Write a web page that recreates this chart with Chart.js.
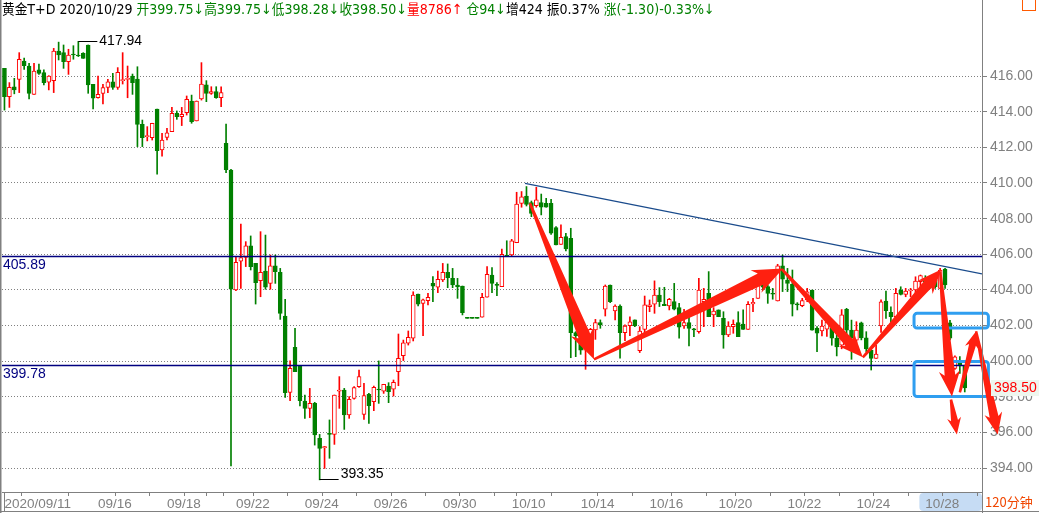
<!DOCTYPE html>
<html>
<head>
<meta charset="utf-8">
<script src="https://cdn.jsdelivr.net/npm/chart.js@4.4.1/dist/chart.umd.min.js"></script>
<style>
  html, body { margin: 0; padding: 0; background: #fff; }
  #wrap { position: relative; width: 1039px; height: 513px; overflow: hidden; }
  canvas { position: absolute; left: 0; top: 0; }
  #head { position: absolute; left: 2px; top: 0px; font: 14px "DejaVu Sans", "Noto Sans CJK SC", sans-serif;
          line-height: 18px; white-space: pre; color: #000; transform: scaleX(0.905); transform-origin: 0 0; }
  .g { color: #008000; }
  .r { color: #ff0000; }
  #icon { position: absolute; left: 1022px; top: -3px; width: 12px; height: 12px; border: 1px solid #ff5a00; }
</style>
</head>
<body>
<div id="wrap">
  <canvas id="c" width="1039" height="513"></canvas>
  <div id="head">黄金T+D 2020/10/29 <span class="g">开399.75↓高399.75↓低398.28↓收398.50↓</span><span class="r">量8786↑</span> <span class="g">仓94↓</span>增424 振0.37% <span class="g">涨(-1.30)-0.33%↓</span></div>
  <div id="icon"></div>
</div>
<script>
// 120-minute candles, 2020/09/11 .. 2020/10/29 (one entry per bar)
const opens = [
  416.43, 414.84, 415.40, 415.81, 416.84, 416.56, 414.97, 416.34, 416.19, 415.65,
  415.74, 417.40, 417.31, 416.80, 417.23, 417.18, 417.27, 417.74, 415.53, 414.78,
  415.03, 415.36, 415.68, 415.36, 415.74, 415.81, 416.00, 415.83, 413.29, 412.60,
  412.54, 414.15, 411.85, 412.56, 412.88, 413.91, 413.72, 413.94, 414.60, 413.48,
  414.71, 415.50, 415.03, 415.12, 414.78, 412.22, 410.73, 404.00, 405.62, 405.83,
  406.48, 405.49, 404.52, 405.06, 404.37, 405.36, 404.99, 402.54, 398.26, 400.78,
  399.74, 397.77, 397.36, 397.64, 395.68, 395.15, 395.96, 395.90, 398.33, 398.39,
  396.99, 397.92, 398.58, 397.02, 398.15, 397.74, 398.44, 398.33, 398.61, 398.43,
  399.42, 400.32, 401.01, 401.29, 403.77, 403.25, 403.40, 404.37, 404.15, 404.56,
  404.99, 404.65, 404.28, 404.22, 402.41, 402.41, 402.41, 402.47, 403.59, 404.84,
  404.32, 404.19, 405.96, 405.96, 406.65, 408.86, 409.27, 408.90, 408.73, 408.90,
  408.86, 408.86, 407.50, 406.56, 406.99, 406.90, 401.61, 401.29, 400.63, 401.20,
  401.76, 402.17, 402.92, 404.28, 402.82, 403.10, 401.61, 402.00, 402.32, 400.60,
  401.79, 403.07, 403.20, 403.72, 403.20, 403.10, 403.35, 403.01, 401.98, 402.17,
  401.79, 401.66, 403.35, 403.81, 402.60, 402.88, 402.41, 401.48, 401.94, 402.17,
  402.09, 401.79, 403.22, 403.53, 404.37, 404.19, 403.81, 403.38, 405.36, 404.56,
  404.32, 403.21, 403.12, 403.44, 404.00, 401.85, 401.70, 401.80, 402.20, 401.30,
  400.90, 402.91, 401.75, 401.19, 402.15, 401.32, 400.63, 400.16, 401.98, 403.38,
  402.74, 402.50, 404.00, 403.75, 403.94, 404.00, 404.46, 404.65, 404.50, 404.56,
  404.09, 405.17, 402.15, 399.60, 399.98, 399.75
];
const highs = [
  416.43, 415.63, 415.87, 417.31, 417.00, 416.71, 416.71, 416.67, 416.34, 416.02,
  417.55, 417.90, 417.74, 417.50, 417.70, 417.94, 417.31, 417.74, 415.53, 416.00,
  415.53, 415.81, 416.15, 416.47, 417.31, 416.56, 416.11, 416.52, 413.53, 413.16,
  413.35, 414.15, 412.78, 413.07, 414.24, 414.04, 414.24, 414.88, 414.93, 414.60,
  416.75, 415.74, 415.40, 415.40, 415.40, 413.31, 410.77, 405.87, 407.70, 406.71,
  407.03, 405.49, 407.27, 407.08, 405.96, 405.96, 405.21, 403.47, 400.02, 401.85,
  399.74, 398.11, 398.48, 397.70, 395.90, 395.22, 396.71, 398.11, 399.14, 398.48,
  398.02, 398.58, 399.51, 398.76, 398.20, 398.61, 400.02, 398.71, 398.80, 398.95,
  401.53, 401.19, 401.70, 403.90, 403.77, 403.49, 403.81, 404.75, 405.06, 405.49,
  405.46, 405.21, 404.65, 404.22, 402.41, 402.41, 402.41, 403.81, 405.31, 405.25,
  404.41, 406.30, 406.76, 406.84, 409.48, 409.52, 409.80, 408.99, 409.76, 409.38,
  409.14, 409.08, 407.55, 407.65, 407.18, 407.46, 401.66, 401.79, 401.75, 401.85,
  402.35, 402.32, 404.28, 404.28, 403.16, 403.16, 402.04, 402.50, 402.32, 401.94,
  403.66, 403.44, 404.51, 404.13, 404.15, 403.53, 404.37, 403.25, 402.92, 402.50,
  401.85, 404.65, 404.09, 405.03, 403.01, 402.88, 402.78, 402.22, 402.32, 402.78,
  402.88, 403.35, 403.53, 404.37, 404.41, 404.28, 404.09, 405.44, 405.96, 405.21,
  405.12, 403.29, 403.53, 404.09, 404.00, 401.94, 402.31, 402.40, 402.30, 401.50,
  402.90, 402.97, 402.31, 402.22, 402.20, 401.66, 400.72, 400.91, 403.44, 403.94,
  403.06, 404.09, 404.18, 404.09, 404.09, 404.74, 404.84, 404.80, 404.70, 404.84,
  405.21, 405.21, 402.30, 400.30, 400.26, 399.75
];
const lows = [
  414.09, 414.24, 415.00, 415.07, 416.37, 414.71, 414.97, 416.09, 415.50, 415.22,
  415.07, 416.90, 416.43, 416.09, 416.94, 417.09, 416.99, 415.03, 414.15, 414.75,
  414.43, 415.07, 415.25, 415.25, 415.55, 414.78, 414.97, 412.04, 412.04, 412.36,
  412.41, 410.50, 411.51, 412.41, 412.88, 413.57, 413.22, 413.81, 413.35, 413.48,
  414.65, 414.56, 414.97, 414.75, 414.28, 410.58, 394.13, 403.96, 404.09, 405.31,
  405.12, 403.21, 403.62, 404.04, 404.04, 404.37, 402.35, 397.98, 397.79, 399.42,
  397.49, 396.80, 396.84, 395.30, 393.35, 393.99, 394.56, 395.34, 397.36, 396.18,
  396.80, 397.87, 398.54, 396.74, 396.52, 397.23, 397.64, 398.20, 397.68, 398.05,
  398.63, 400.04, 400.91, 401.14, 403.10, 401.44, 403.16, 403.34, 403.85, 404.47,
  404.13, 404.13, 403.53, 402.60, 402.41, 402.41, 402.41, 402.47, 403.59, 403.85,
  403.68, 404.19, 405.90, 405.90, 406.65, 408.64, 408.71, 408.11, 408.64, 408.21,
  408.64, 407.12, 406.52, 406.56, 406.19, 400.20, 400.26, 400.39, 399.55, 400.49,
  401.23, 401.85, 402.54, 403.29, 402.32, 400.17, 401.16, 401.44, 401.94, 400.49,
  401.48, 402.78, 402.69, 403.07, 403.12, 402.88, 402.88, 401.29, 401.85, 400.86,
  401.38, 401.57, 401.94, 402.50, 401.94, 402.50, 400.73, 401.38, 401.57, 401.38,
  401.79, 401.79, 402.78, 403.53, 404.00, 403.25, 403.48, 403.38, 403.91, 403.91,
  402.54, 402.88, 403.06, 403.34, 401.75, 400.54, 401.42, 401.40, 400.90, 400.30,
  400.70, 401.04, 400.11, 401.01, 401.20, 400.54, 399.51, 400.16, 401.62, 402.41,
  402.17, 402.41, 403.72, 403.62, 403.62, 403.62, 404.18, 404.09, 404.10, 404.09,
  404.09, 404.09, 401.20, 399.55, 399.32, 398.28
];
const closes = [
  414.84, 415.36, 415.22, 416.93, 416.58, 415.03, 416.28, 416.15, 415.63, 416.00,
  417.40, 417.18, 416.80, 417.18, 417.18, 417.12, 416.99, 415.50, 414.75, 414.97,
  415.35, 415.68, 415.36, 416.21, 415.78, 415.83, 415.63, 413.29, 412.54, 412.63,
  413.35, 411.81, 412.41, 412.82, 413.91, 413.72, 413.85, 414.69, 413.44, 414.60,
  415.55, 415.03, 415.12, 414.78, 415.07, 410.75, 404.04, 405.55, 405.81, 406.48,
  405.31, 404.41, 404.99, 404.15, 405.36, 405.03, 402.69, 398.24, 399.60, 399.42,
  397.79, 397.36, 397.64, 395.87, 395.12, 395.21, 395.90, 398.11, 398.39, 396.99,
  397.87, 398.52, 399.14, 398.07, 397.51, 398.54, 398.39, 398.71, 398.30, 398.82,
  400.17, 401.04, 401.34, 403.72, 403.21, 403.44, 403.59, 404.22, 404.60, 404.99,
  404.69, 404.28, 404.19, 402.73, 402.41, 402.41, 402.41, 403.59, 404.88, 404.37,
  404.26, 406.00, 405.90, 406.76, 408.82, 409.23, 408.80, 408.30, 409.05, 408.64,
  408.64, 407.18, 406.52, 406.95, 406.30, 401.61, 401.44, 400.63, 401.57, 401.79,
  402.17, 402.04, 404.22, 403.35, 403.10, 401.61, 401.98, 402.22, 401.98, 401.70,
  403.16, 403.16, 403.72, 403.35, 403.12, 403.48, 402.92, 401.91, 402.17, 401.85,
  401.76, 404.00, 403.48, 402.50, 402.82, 402.50, 401.48, 401.98, 402.07, 401.38,
  401.79, 403.20, 403.31, 404.37, 404.15, 403.81, 403.76, 405.36, 404.60, 404.37,
  403.21, 403.16, 403.40, 403.90, 401.75, 401.57, 401.98, 402.20, 401.30, 400.80,
  402.60, 401.75, 401.29, 401.75, 401.31, 400.69, 400.16, 400.41, 403.34, 402.84,
  402.50, 403.81, 403.75, 403.94, 404.00, 404.50, 404.80, 404.46, 404.30, 404.18,
  405.12, 404.28, 401.30, 400.25, 399.79, 398.50
];

// bar index where each trading day starts, and the date printed under it
const tickIdx = [0, 7, 19, 26, 33, 40, 42, 47, 54, 61, 68, 75, 82, 89, 96, 103, 105,
  117, 124, 131, 140, 145, 152, 159, 166, 173, 180, 187, 194];
const tickText = ['2020/09/11', '', '09/16', '', '09/18', '', '', '09/22', '', '09/24', '',
  '09/26', '', '09/30', '', '10/10', '', '10/14', '', '10/16', '', '10/20', '', '10/22', '',
  '10/24', '', '10/28', ''];

// drawn-on annotations, in (bar index, price)
const hLevels = [405.89, 399.78];
const trendLine = [[105.7, 409.98], [198.5, 404.9]];
const arrows = [
  [106.7, 408.86, 119.7, 400.11],
  [119.7, 400.11, 158.1, 405.21],
  [157.9, 405.15, 174.3, 400.22],
  [174.3, 400.22, 190.2, 405.15],
  [190.0, 405.04, 192.4, 398.03],
  [192.2, 397.86, 193.4, 395.90],
  [194.0, 398.26, 197.3, 401.68],
  [197.3, 401.68, 201.7, 395.90]
];
const boxes = [
  [184.7, 199.8, 401.87, 402.69],
  [184.7, 199.8, 398.02, 399.99]
];

const SLOTS = 199;
const RED = '#ff0000';
const GREEN = '#008000';
const GRAY = '#808080';
const FONT = '"Liberation Sans", Arial, sans-serif';

const isUp = i => closes[i] > opens[i];
const bodies = opens.map((o, i) => ({ x: i, y: [Math.min(o, closes[i]), Math.max(o, closes[i])] }));
const wicks = lows.map((l, i) => ({ x: i, y: [l, highs[i]] }));

function drawArrow(ctx, x1, y1, x2, y2) {
  const dx = x2 - x1, dy = y2 - y1, len = Math.hypot(dx, dy);
  const ux = dx / len, uy = dy / len, nx = -uy, ny = ux;
  const headL = Math.max(14, Math.min(25, len * 0.17));
  const headW = headL, shaftW = headL * 0.5, tailW = 2.5;
  const bx = x2 - ux * headL, by = y2 - uy * headL;
  const back = headL * 0.2;
  ctx.beginPath();
  ctx.moveTo(x1 + nx * tailW / 2, y1 + ny * tailW / 2);
  ctx.lineTo(bx + nx * shaftW / 2, by + ny * shaftW / 2);
  ctx.lineTo(bx - ux * back + nx * headW / 2, by - uy * back + ny * headW / 2);
  ctx.lineTo(x2, y2);
  ctx.lineTo(bx - ux * back - nx * headW / 2, by - uy * back - ny * headW / 2);
  ctx.lineTo(bx - nx * shaftW / 2, by - ny * shaftW / 2);
  ctx.lineTo(x1 - nx * tailW / 2, y1 - ny * tailW / 2);
  ctx.closePath();
  ctx.fill();
}

const decor = {
  id: 'decor',
  beforeDraw(chart) {
    // highlight behind the latest date label
    const { ctx, chartArea: ca, scales: { x } } = chart;
    let k = tickText.length - 1;
    while (k > 0 && !tickText[k]) k--;
    const x0 = x.getPixelForValue(tickIdx[k]) - 6;
    ctx.save();
    ctx.fillStyle = '#c6dcf4';
    ctx.beginPath();
    ctx.roundRect(x0, ca.bottom + 1, ca.right - x0, 18, 4);
    ctx.fill();
    ctx.restore();
  },
  afterDatasetsDraw(chart) {
    const { ctx, chartArea: ca, scales: { x, y } } = chart;
    ctx.save();
    ctx.beginPath();
    ctx.rect(ca.left, ca.top, ca.right - ca.left, ca.bottom - ca.top);
    ctx.clip();
    ctx.strokeStyle = '#000080';
    ctx.lineWidth = 1.3;
    hLevels.forEach(v => {
      const py = Math.round(y.getPixelForValue(v)) + 0.5;
      ctx.beginPath();
      ctx.moveTo(ca.left, py);
      ctx.lineTo(ca.right, py);
      ctx.stroke();
    });
    ctx.strokeStyle = '#1a4b8c';
    ctx.lineWidth = 1.2;
    ctx.beginPath();
    ctx.moveTo(x.getPixelForValue(trendLine[0][0]), y.getPixelForValue(trendLine[0][1]));
    ctx.lineTo(x.getPixelForValue(trendLine[1][0]), y.getPixelForValue(trendLine[1][1]));
    ctx.stroke();
    ctx.restore();

    ctx.save();
    ctx.strokeStyle = '#2f9ef0';
    ctx.lineWidth = 3;
    boxes.forEach(b => {
      const l = x.getPixelForValue(b[0]), r = x.getPixelForValue(b[1]);
      const t = y.getPixelForValue(b[3]), btm = y.getPixelForValue(b[2]);
      ctx.beginPath();
      ctx.roundRect(l, t, r - l, btm - t, 3);
      ctx.stroke();
    });
    ctx.fillStyle = '#ff2010';
    arrows.forEach(a => drawArrow(ctx,
      x.getPixelForValue(a[0]), y.getPixelForValue(a[1]),
      x.getPixelForValue(a[2]), y.getPixelForValue(a[3])));
    ctx.restore();
  },
  afterDraw(chart) {
    const { ctx, chartArea: ca, scales: { x, y }, width, height } = chart;
    ctx.save();
    // frame
    ctx.fillStyle = GRAY;
    ctx.fillRect(0, 0, 1.5, height);
    ctx.fillRect(ca.right, 0, 1, height);
    ctx.fillRect(0, height - 2, width, 1);
    ctx.fillRect(4, ca.bottom, 1, height - 2 - ca.bottom);

    // level labels on the left
    ctx.font = '14px ' + FONT;
    ctx.fillStyle = '#000080';
    ctx.textBaseline = 'top';
    ctx.textAlign = 'left';
    hLevels.forEach(v => ctx.fillText(v.toFixed(2), ca.left + 1, y.getPixelForValue(v) + 2));

    // highest / lowest markers
    ctx.fillStyle = '#000';
    ctx.strokeStyle = '#000';
    ctx.lineWidth = 1;
    const hi = Math.max(...highs), lo = Math.min(...lows);
    const hx = x.getPixelForValue(highs.indexOf(hi)), hy = Math.round(y.getPixelForValue(hi)) + 0.5;
    ctx.beginPath(); ctx.moveTo(hx, hy); ctx.lineTo(hx + 19, hy); ctx.stroke();
    ctx.textBaseline = 'middle';
    ctx.fillText(hi.toFixed(2), hx + 21, hy);
    const lx = x.getPixelForValue(lows.indexOf(lo)), ly = Math.round(y.getPixelForValue(lo)) - 0.5;
    ctx.beginPath(); ctx.moveTo(lx, ly); ctx.lineTo(lx + 19, ly); ctx.stroke();
    ctx.textBaseline = 'bottom';
    ctx.fillText(lo.toFixed(2), lx + 21, ly + 2);

    // last price tag
    const last = closes[closes.length - 1];
    const py = y.getPixelForValue(last);
    ctx.fillStyle = '#eef6ee';
    ctx.fillRect(ca.right + 9, py - 8, width - ca.right - 9, 16);
    ctx.fillStyle = RED;
    ctx.textBaseline = 'middle';
    ctx.fillText(last.toFixed(2), ca.right + 12, py);

    // period tag
    ctx.fillStyle = '#f04600';
    ctx.font = '13px "Noto Sans CJK SC", ' + FONT;
    ctx.fillText('120分钟', ca.right + 3, (ca.bottom + height - 2) / 2 + 1);
    ctx.restore();
  }
};

new Chart(document.getElementById('c'), {
  type: 'bar',
  data: {
    datasets: [
      {
        label: 'body',
        data: bodies,
        grouped: false,
        barThickness: 4,
        minBarLength: 1,
        borderWidth: 1,
        borderSkipped: false,
        backgroundColor: c => isUp(c.dataIndex) ? '#ffffff' : GREEN,
        borderColor: c => isUp(c.dataIndex) ? RED : GREEN
      },
      {
        label: 'wick',
        data: wicks,
        grouped: false,
        barThickness: 1,
        minBarLength: 1,
        borderWidth: 0,
        backgroundColor: c => isUp(c.dataIndex) ? RED : GREEN
      }
    ]
  },
  options: {
    responsive: false,
    animation: false,
    devicePixelRatio: 1,
    layout: { padding: { top: 22, left: 2, right: 0, bottom: 0 } },
    plugins: { legend: { display: false }, tooltip: { enabled: false } },
    scales: {
      x: {
        type: 'linear',
        min: -0.5,
        max: SLOTS - 0.5,
        offset: false,
        afterBuildTicks: s => { s.ticks = tickIdx.map(v => ({ value: v })); },
        afterFit: s => { s.height = 21; },
        grid: { drawOnChartArea: false, drawTicks: true, tickLength: 4, tickColor: GRAY },
        border: { display: true, color: GRAY },
        ticks: {
          autoSkip: false, maxRotation: 0, minRotation: 0, align: 'start', padding: 0,
          color: GRAY, font: { family: FONT, size: 13.5 },
          callback: (v, i) => tickText[i]
        }
      },
      y: {
        position: 'right',
        min: 392.669,
        max: 419.029,
        afterBuildTicks: s => { s.ticks = s.ticks.filter(t => t.value >= 394 && t.value <= 416); },
        afterFit: s => { s.width = 57; },
        grid: { color: GRAY, tickLength: 5, tickColor: GRAY },
        border: { display: false, dash: [1, 2] },
        ticks: {
          stepSize: 2, includeBounds: false, padding: 3, color: GRAY,
          font: { family: FONT, size: 14 },
          callback: v => v.toFixed(2)
        }
      }
    }
  },
  plugins: [decor]
});
</script>
</body>
</html>
